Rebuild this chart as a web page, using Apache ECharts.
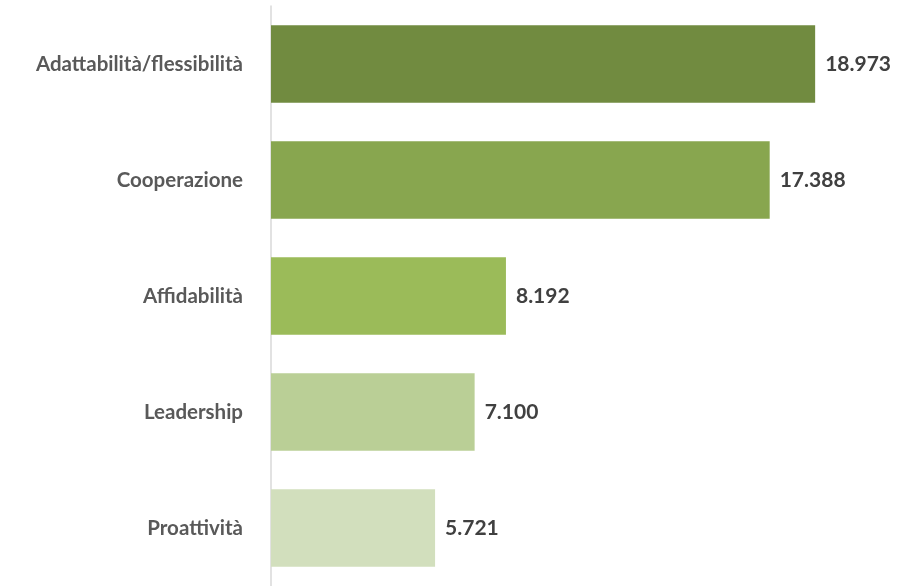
<!DOCTYPE html>
<html><head><meta charset="utf-8">
<script src="https://cdn.jsdelivr.net/npm/echarts@6/dist/echarts.min.js"></script>
<style>html,body{margin:0;padding:0;background:#fff}#c{width:921px;height:586px}</style>
</head><body><div id="c"></div>
<script>
const categories = ["Adattabilità/flessibilità", "Cooperazione", "Affidabilità", "Leadership", "Proattività"];
const values = [18973, 17388, 8192, 7100, 5721];
const colors = ["#718B40", "#88A64F", "#9BBB59", "#BACF96", "#D2DFBD"];

const fmt = v => String(v).replace(/\B(?=(\d{3})+(?!\d))/g, ".");
const chart = echarts.init(document.getElementById('c'), null, {renderer: 'canvas'});
chart.setOption({
  animation: false,
  grid: {left: 271, top: 6, width: 573.6, height: 585},
  xAxis: {type: 'value', min: 0, max: 20000, show: false},
  yAxis: {
    type: 'category', data: categories, inverse: true,
    axisLine: {show: true, lineStyle: {color: '#D9D9D9', width: 1.5}},
    axisTick: {show: false},
    axisLabel: {color: '#595959', fontFamily: 'Lato', fontWeight: 'bold', fontSize: 20.5, margin: 28}
  },
  series: [{
    type: 'bar', barCategoryGap: '33%',
    data: values.map((v, i) => ({value: v, itemStyle: {color: colors[i]}})),
    label: {show: true, position: 'right', distance: 10, color: '#404040', fontFamily: 'Lato', fontWeight: 'bold', fontSize: 21,
      formatter: p => fmt(p.value)}
  }]
});
</script></body></html>
